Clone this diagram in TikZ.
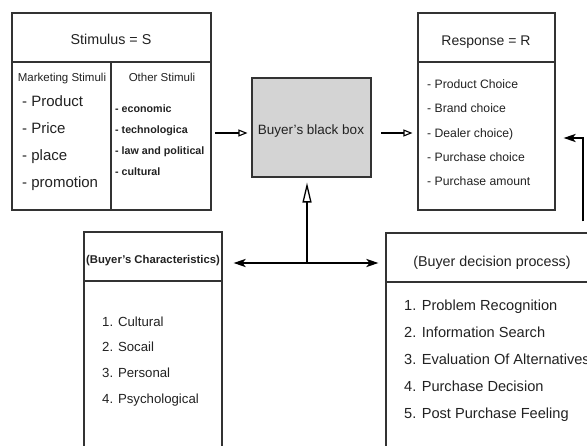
\documentclass[tikz,border=0pt]{standalone}
\usepackage{fontspec}
\setmainfont{Liberation Sans}
\usetikzlibrary{arrows.meta}
\definecolor{boxline}{HTML}{333333}
\definecolor{boxfill}{HTML}{D4D4D4}
\definecolor{txt}{HTML}{222222}
\tikzset{
  box/.style={draw=boxline, line width=1.1pt, rectangle, inner sep=0pt},
  sep/.style={draw=boxline, line width=1.3pt},
  lbl/.style={inner sep=0pt, text=txt, text height=.72em, text depth=.21em, yshift=-1.5pt},
  fs/.style={font=\fontsize{#1}{#1}\selectfont},
  fsb/.style={font=\fontsize{#1}{#1}\selectfont\bfseries},
  flow/.style={line width=2.6pt, black},
  openhead/.style={flow, line width=2pt, -{Triangle[open, length=9pt, width=7pt, line width=1.1pt]}},
  bighead/.style={flow, -{Triangle[open, length=20pt, width=9pt, line width=1.3pt]}},
  solidhead/.style={-{Stealth[length=12pt, width=8pt, inset=3pt]}},
}
\begin{document}
\begin{tikzpicture}[x=1pt, y=-1pt]
\useasboundingbox (0,0) rectangle (587,446);
\clip (0,0) rectangle (587,446);
\fill[white] (0,0) rectangle (587,446);

% boxes
\node[box, minimum width=199pt, minimum height=197pt] (stim) at (111.5,111.5) {};
\node[box, fill=boxfill, minimum width=119pt, minimum height=99pt] (black) at (311.5,127.5) {};
\node[box, minimum width=137pt, minimum height=197pt] (resp) at (486.5,111.5) {};
\node[box, minimum width=138pt, minimum height=238pt] (char) at (153,351) {};
\node[box, minimum width=234pt, minimum height=237pt] (dec) at (503,351.5) {};

% header separators
\draw[sep] (12,62) -- (211,62);
\draw[sep] (111,62) -- (111,210);
\draw[sep] (418,62) -- (555,62);
\draw[sep] (84,281) -- (222,281);
\draw[sep] (386,282) -- (620,282);

% stimulus texts
\node[lbl, fs=14.3] (stimt) at (111,40) {Stimulus = S};
\node[lbl, fs=11.5] (mkt) at (62,77) {Marketing Stimuli};
\node[lbl, fs=11.5] (oth) at (162,77) {Other Stimuli};
\node[lbl, fs=15, anchor=west] (p1) at (22,102) {- Product};
\node[lbl, fs=15, anchor=west] (p2) at (22,129) {- Price};
\node[lbl, fs=15, anchor=west] (p3) at (22,156) {- place};
\node[lbl, fs=15, anchor=west] (p4) at (22,183) {- promotion};
\node[lbl, fsb=10.7, anchor=west] (o1) at (115,108) {- economic};
\node[lbl, fsb=10.7, anchor=west] (o2) at (115,129) {- technologica};
\node[lbl, fsb=10.7, anchor=west] (o3) at (115,150) {- law and political};
\node[lbl, fsb=10.7, anchor=west] (o4) at (115,171) {- cultural};

% black box text
\node[lbl, fs=13.5] (bbt) at (311,130) {Buyer's black box};

% response texts
\node[lbl, fs=14] (respt) at (486,41) {Response = R};
\node[lbl, fs=12.2, anchor=west] (r1) at (427,84) {- Product Choice};
\node[lbl, fs=12.2, anchor=west] (r2) at (427,108) {- Brand choice};
\node[lbl, fs=12.2, anchor=west] (r3) at (427,133) {- Dealer choice)};
\node[lbl, fs=12.2, anchor=west] (r4) at (427,157) {- Purchase choice};
\node[lbl, fs=12.2, anchor=west] (r5) at (427,181) {- Purchase amount};

% characteristics texts
\node[lbl, fsb=11.3] (chart) at (153,259) {(Buyer's Characteristics)};
\node[lbl, fs=13.2, anchor=west] (c1) at (102,322) {1. Cultural};
\node[lbl, fs=13.2, anchor=west] (c2) at (102,347) {2. Socail};
\node[lbl, fs=13.2, anchor=west] (c3) at (102,373) {3. Personal};
\node[lbl, fs=13.2, anchor=west] (c4) at (102,399) {4. Psychological};

% decision texts
\node[lbl, fs=14.3] (dect) at (492,262) {(Buyer decision process)};
\node[lbl, fs=14.6, anchor=west] (d1) at (404,306) {1. Problem Recognition};
\node[lbl, fs=14.6, anchor=west] (d2) at (404,333) {2. Information Search};
\node[lbl, fs=14.6, anchor=west] (d3) at (404,360) {3. Evaluation Of Alternatives};
\node[lbl, fs=14.6, anchor=west] (d4) at (404,387) {4. Purchase Decision};
\node[lbl, fs=14.6, anchor=west] (d5) at (404,414) {5. Post Purchase Feeling};

% connectors
\coordinate (s1) at (215,133);
\coordinate (b1) at (381,133);
\coordinate (jn) at (307,263);
\coordinate (rc) at (583,138);
\draw[openhead, shorten >=4pt] (s1) -- (s1 -| black.west);
\draw[openhead, shorten >=5pt] (b1) -- (b1 -| resp.west);
\draw[bighead, shorten >=5pt] (jn) -- (jn |- black.south);
\draw[flow, solidhead, shorten >=11pt] (jn) -- (jn -| char.east);
\draw[flow, solidhead, shorten >=7pt] (jn) -- (jn -| dec.west);
\draw[flow, solidhead, shorten <=11pt, shorten >=8pt] (rc |- dec.north) -- (rc) -- (rc -| resp.east);
\end{tikzpicture}
\end{document}
